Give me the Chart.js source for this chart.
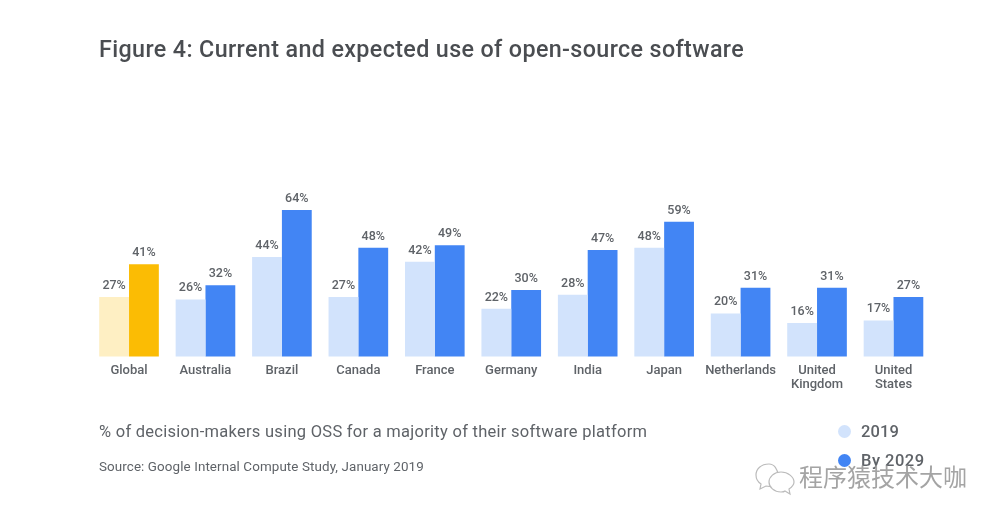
<!DOCTYPE html>
<html><head><meta charset="utf-8">
<script src="https://cdn.jsdelivr.net/npm/chart.js@4"></script>
<style>
html,body{margin:0;padding:0;background:#fff;width:1000px;height:520px;overflow:hidden}
#wrap{position:relative;width:1000px;height:520px;font-family:Roboto,sans-serif;filter:blur(.4px)}
canvas{position:absolute;left:0;top:0}
.t{position:absolute;white-space:nowrap;color:#5f6368}
.dot{position:absolute;width:13px;height:13px;border-radius:50%}
</style></head><body>
<div id="wrap">
<canvas id="c" width="1000" height="520"></canvas>
<div class="t" style="left:99px;top:35px;font-size:23.3px;font-weight:500;color:#4a4d51;letter-spacing:.37px">Figure 4: Current and expected use of open-source software</div>
<div class="t" style="left:99px;top:421.5px;font-size:16.5px;letter-spacing:.27px">% of decision-makers using OSS for a majority of their software platform</div>
<div class="t" style="left:99px;top:459px;font-size:13.4px;letter-spacing:.1px">Source: Google Internal Compute Study, January 2019</div>
<div class="dot" style="left:838px;top:425px;background:#d2e3fc"></div>
<div class="t" style="left:861px;top:422px;font-size:16.5px;font-weight:500;letter-spacing:.1px">2019</div>
<div class="dot" style="left:838px;top:454px;background:#4285f4"></div>
<div class="t" style="left:861px;top:451px;font-size:16.5px;font-weight:500;letter-spacing:.5px">By 2029</div>
<svg style="position:absolute;left:754px;top:461px" width="42" height="36" viewBox="0 0 42 36" fill="#fff" stroke="#bbb" stroke-width="1.2">
<path d="M15 3C7 3 2 8 2 14c0 4 2 7 5 9l-1 5 6-3c2 0 4 1 6 0C27 25 26 3 15 3z"/>
<path d="M27 11c-7 0-12 5-12 10s5 10 12 10c2 0 3 0 4-1l5 3-1-5c3-2 5-4 5-7 0-5-6-10-13-10z"/>
</svg>
<div class="t" style="left:799px;top:458px;font-family:'Noto Sans CJK SC';font-size:24px;color:#a4a4a4">程序猿技术大咖</div>
</div>
<script>
const categories=["Global","Australia","Brazil","Canada","France","Germany","India","Japan","Netherlands",["United","Kingdom"],["United","States"]];
const values2019=[27,26,44,27,42,22,28,48,20,16,17];
const values2029=[41,32,64,48,49,30,47,59,31,31,27];
const light=values2019.map((v,i)=>i===0?"#feefc3":"#d2e3fc");
const strong=values2029.map((v,i)=>i===0?"#fbbc04":"#4285f4");
const valueLabels={id:"valueLabels",afterDatasetsDraw(chart){
  const g=chart.ctx;g.save();
  g.font="500 12.5px Roboto";g.fillStyle="#5f6368";g.textAlign="center";g.textBaseline="bottom";
  chart.data.datasets.forEach((d,di)=>{
    chart.getDatasetMeta(di).data.forEach((b,i)=>g.fillText(d.data[i]+"%",b.x,b.y-5));
  });
  g.restore();
}};
new Chart(document.getElementById("c"),{
  type:"bar",
  data:{labels:categories,datasets:[
    {label:"2019",data:values2019,backgroundColor:light,barPercentage:1,categoryPercentage:.78},
    {label:"By 2029",data:values2029,backgroundColor:strong,barPercentage:1,categoryPercentage:.78}
  ]},
  options:{
    responsive:false,animation:false,devicePixelRatio:1,
    layout:{padding:{left:90.8,right:68.3,top:125.5,bottom:0}},
    plugins:{legend:{display:false},tooltip:{enabled:false}},
    scales:{
      y:{display:false,min:1.7,max:100},
      x:{
        afterFit(s){s.height=163.5},
        grid:{display:false},border:{display:false},
        ticks:{padding:-1,maxRotation:0,autoSkip:false,color:"#5f6368",font:{family:"Roboto",size:13,weight:"500",lineHeight:1.1}}
      }
    }
  },
  plugins:[valueLabels]
});
</script>
</body></html>
